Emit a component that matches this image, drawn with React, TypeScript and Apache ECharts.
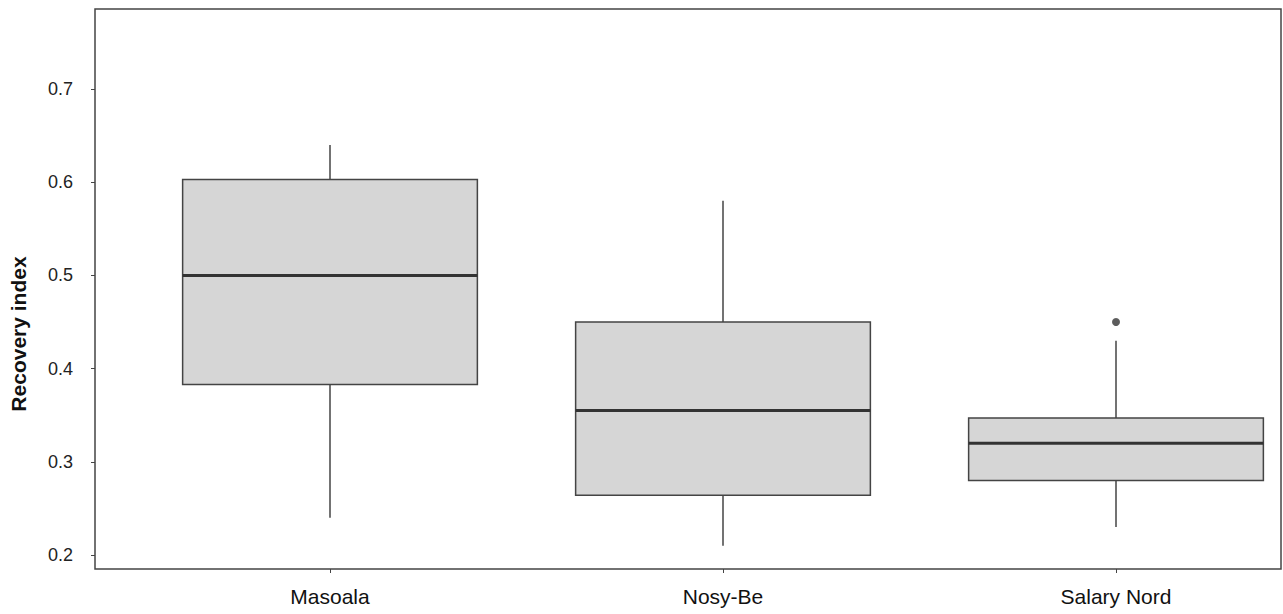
import React, { useEffect, useRef } from "react";
import * as echarts from "echarts";

const categories = ["Masoala", "Nosy-Be", "Salary Nord"];
// [min whisker, Q1, median, Q3, max whisker]
const boxStats = [
  [0.24, 0.383, 0.5, 0.603, 0.64],
  [0.21, 0.264, 0.355, 0.45, 0.58],
  [0.23, 0.28, 0.32, 0.347, 0.43],
];
const outliers = [[2, 0.45]];
const yTicks = { min: 0.2, max: 0.7, interval: 0.1 };

export default function App() {
  const ref = useRef<HTMLDivElement>(null);
  useEffect(() => {
    if (!ref.current) return;
    const chart = echarts.init(ref.current, undefined, { renderer: "svg" });
    const font = "Liberation Sans, Arial, sans-serif";
    const stroke = "#444";
    chart.setOption({
      animation: false,
      backgroundColor: "#fff",
      grid: [
        {
          left: 95,
          top: 9,
          width: 1186,
          height: 560,
          show: true,
          borderColor: stroke,
          borderWidth: 1.5,
          backgroundColor: "transparent",
        },
        { left: 330, top: 89, width: 786, height: 466 },
      ],
      xAxis: [
        { type: "value", gridIndex: 0, show: false, min: 0, max: 1 },
        {
          type: "category",
          gridIndex: 1,
          data: categories,
          boundaryGap: false,
          offset: 14,
          axisLine: { show: false },
          axisTick: { show: true, length: 4, lineStyle: { color: stroke } },
          axisLabel: { fontSize: 21, color: "#111", fontFamily: font, margin: 17 },
          splitLine: { show: false },
        },
      ],
      yAxis: [
        { type: "value", gridIndex: 0, show: false, min: 0, max: 1 },
        {
          type: "value",
          gridIndex: 1,
          min: yTicks.min,
          max: yTicks.max,
          interval: yTicks.interval,
          offset: 235,
          axisLine: { show: false },
          axisTick: { show: true, length: 4, lineStyle: { color: stroke } },
          axisLabel: { fontSize: 18, color: "#222", fontFamily: font, margin: 22 },
          splitLine: { show: false },
        },
      ],
      graphic: [
        {
          type: "text",
          x: 18,
          y: 334,
          rotation: Math.PI / 2,
          style: {
            text: "Recovery index",
            align: "center",
            verticalAlign: "middle",
            fontSize: 21,
            fontWeight: "bold",
            fontFamily: font,
            fill: "#111",
          },
        },
      ],
      series: [
        {
          type: "custom",
          xAxisIndex: 1,
          yAxisIndex: 1,
          data: boxStats.map((s, i) => [i, ...s]),
          renderItem: (params: any, api: any) => {
            const x = api.value(0);
            const pMin = api.coord([x, api.value(1)]);
            const pQ1 = api.coord([x, api.value(2)]);
            const pMed = api.coord([x, api.value(3)]);
            const pQ3 = api.coord([x, api.value(4)]);
            const pMax = api.coord([x, api.value(5)]);
            const step = api.coord([1, 0])[0] - api.coord([0, 0])[0];
            const bw = step * 0.75;
            const cx = pMed[0];
            return {
              type: "group",
              children: [
                {
                  type: "line",
                  shape: { x1: cx, y1: pQ3[1], x2: cx, y2: pMax[1] },
                  style: { stroke, lineWidth: 1.5 },
                },
                {
                  type: "line",
                  shape: { x1: cx, y1: pQ1[1], x2: cx, y2: pMin[1] },
                  style: { stroke, lineWidth: 1.5 },
                },
                {
                  type: "rect",
                  shape: { x: cx - bw / 2, y: pQ3[1], width: bw, height: pQ1[1] - pQ3[1] },
                  style: { fill: "#d6d6d6", stroke, lineWidth: 1.5 },
                },
                {
                  type: "line",
                  shape: { x1: cx - bw / 2, y1: pMed[1], x2: cx + bw / 2, y2: pMed[1] },
                  style: { stroke: "#333", lineWidth: 3 },
                },
              ],
            };
          },
        },
        {
          type: "scatter",
          xAxisIndex: 1,
          yAxisIndex: 1,
          data: outliers,
          symbolSize: 8,
          itemStyle: { color: "#333" },
        },
      ],
    });
    return () => chart.dispose();
  }, []);
  return (
    <div
      ref={ref}
      style={{ position: "fixed", left: 0, top: 0, width: 1283, height: 614 }}
    />
  );
}
